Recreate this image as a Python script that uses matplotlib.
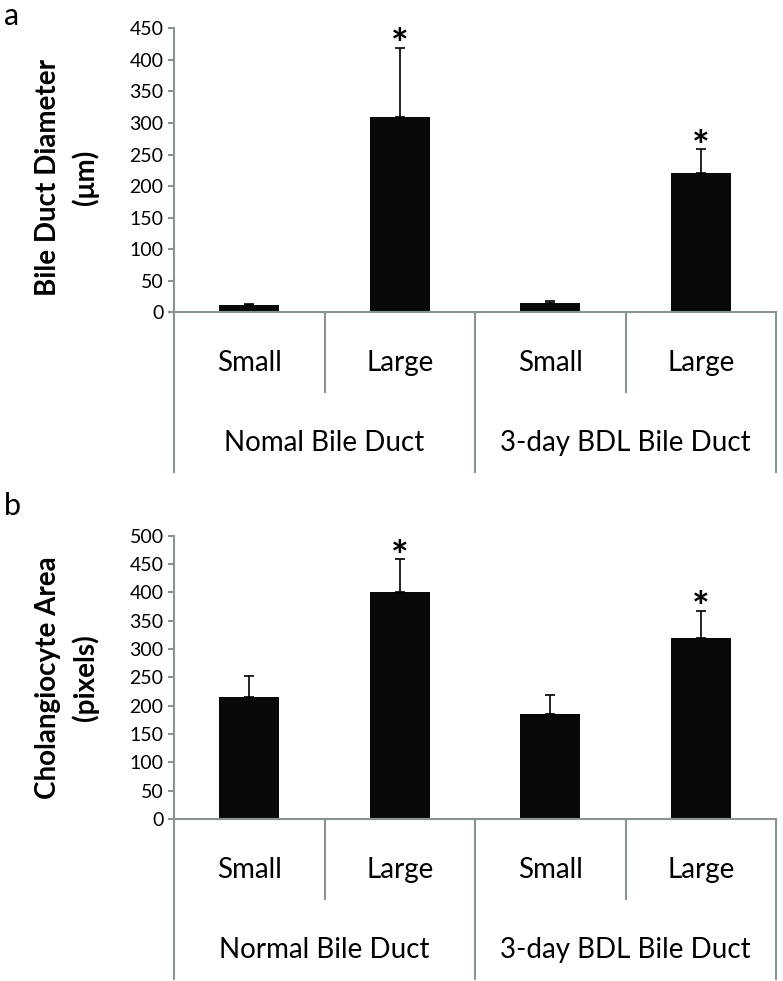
import numpy as np
import matplotlib.pyplot as plt
from matplotlib.transforms import blended_transform_factory

plt.rcParams['font.family'] = ['Lato', 'DejaVu Sans']

# data
sizes = ['Small', 'Large', 'Small', 'Large']
groups_a = ['Nomal Bile Duct', '3-day BDL Bile Duct']
groups_b = ['Normal Bile Duct', '3-day BDL Bile Duct']

diam = [11, 310, 14, 220]          # um
diam_err = [2, 109, 4, 38]
diam_star = [False, True, False, True]

area = [215, 400, 186, 320]        # pixels
area_err = [37, 58, 32, 47]
area_star = [False, True, False, True]

W, H = 783, 981
fig = plt.figure(figsize=(W / 100, H / 100), dpi=100)
gray = '#8a9494'


def panel(box, vals, errs, star, ymax, ylab, groups, lab_y):
    l, t, r, b = box  # pixel box of the plotting area
    ax = fig.add_axes([l / W, 1 - b / H, (r - l) / W, (b - t) / H])
    hpx = b - t
    x = np.arange(len(vals))
    ax.bar(x, vals, width=0.4, color='#080808', zorder=2)
    ax.errorbar(x, vals, yerr=[np.zeros(len(vals)), errs], fmt='none',
                ecolor='black', elinewidth=1.2, capsize=3.6, capthick=1.2, zorder=3)
    for xi, v, e, s in zip(x, vals, errs, star):
        if s:
            ax.annotate('*', (xi, v + e), xytext=(0, -8), textcoords='offset points',
                        ha='center', va='baseline', fontsize=30, fontweight='bold')
    ax.set_xlim(-0.5, len(vals) - 0.5)
    ax.set_ylim(0, ymax)
    ax.set_yticks(np.arange(0, ymax + 1, 50))
    ax.set_xticks([])
    for s in ['top', 'right']:
        ax.spines[s].set_visible(False)
    for s in ['left', 'bottom']:
        ax.spines[s].set_color(gray)
        ax.spines[s].set_linewidth(1.5)
    ax.tick_params(axis='y', direction='out', length=4.5, width=1.5, color=gray,
                   labelsize=14, pad=3)

    # category axis dividers under the plot
    tr = blended_transform_factory(ax.transData, ax.transAxes)
    for i in range(len(vals) + 1):
        xd = i - 0.5
        depth = 160 if i % 2 == 0 else 80
        ax.plot([xd, xd], [0, -depth / hpx], color=gray, lw=1.5,
                transform=tr, clip_on=False)
    for xi, s in zip(x, sizes):
        ax.text(xi, -51 / hpx, s, transform=tr, ha='center', va='center', fontsize=20)
    for k, g in enumerate(groups):
        ax.text(2 * k + 0.5, -131 / hpx, g, transform=tr, ha='center', va='center',
                fontsize=20)

    ax.text(-107 / (r - l), lab_y, ylab, transform=ax.transAxes, rotation=90,
            ha='center', va='center', multialignment='center', fontsize=20,
            fontweight='bold', linespacing=1.5)
    return ax


panel((174, 28.3, 776, 312.3), diam, diam_err, diam_star, 450,
      'Bile Duct Diameter\n(\u03bcm)', groups_a, 0.475)
panel((174, 535.7, 776, 819), area, area_err, area_star, 500,
      'Cholangiocyte Area\n(pixels)', groups_b, 0.498)

fig.text(4 / W, 1 - 25 / H, 'a', fontsize=22, va='baseline', ha='left')
fig.text(4 / W, 1 - 515 / H, 'b', fontsize=22, va='baseline', ha='left')

fig.savefig('out.png', dpi=100)
